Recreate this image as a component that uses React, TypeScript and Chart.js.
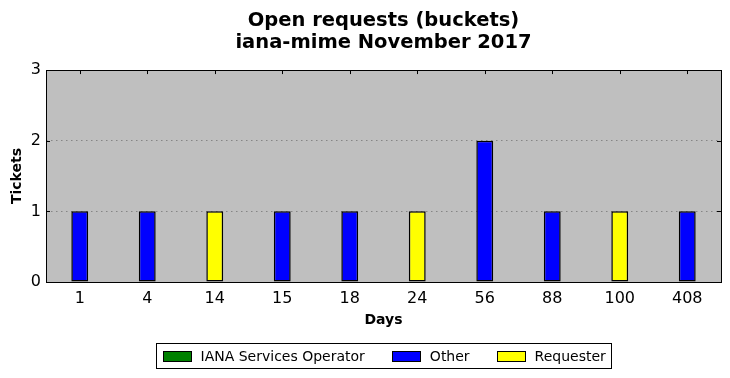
import React, { useEffect, useRef } from "react";
import { Chart, registerables } from "chart.js";

Chart.register(...registerables);

const categories = ["1", "4", "14", "15", "18", "24", "56", "88", "100", "408"];
const ianaValues = [0, 0, 0, 0, 0, 0, 0, 0, 0, 0];
const otherValues = [1, 1, 0, 1, 1, 0, 2, 1, 0, 1];
const requesterValues = [0, 0, 1, 0, 0, 1, 0, 0, 1, 0];
const yTicks = [0, 1, 2, 3];

const FONT = "DejaVu Sans";

const nz = (arr: number[]) => arr.map((v) => (v === 0 ? null : v));

const framePlugin = {
  id: "mplFrame",
  beforeDraw(chart: any) {
    const { ctx, chartArea: a } = chart;
    ctx.save();
    ctx.fillStyle = "#bfbfbf";
    ctx.fillRect(a.left, a.top, a.right - a.left, a.bottom - a.top);
    ctx.restore();
  },
  afterDatasetsDraw(chart: any) {
    const { ctx, chartArea: a } = chart;
    const xs = chart.scales.x;
    const ys = chart.scales.y;
    ctx.save();
    ctx.strokeStyle = "#000";
    ctx.lineWidth = 1;
    ctx.beginPath();
    const L = 4;
    xs.ticks.forEach((_: any, i: number) => {
      const px = Math.round(xs.getPixelForTick(i)) + 0.5;
      ctx.moveTo(px, a.top);
      ctx.lineTo(px, a.top + L);
    });
    ys.ticks.forEach((_: any, i: number) => {
      const py = Math.round(ys.getPixelForTick(i)) + 0.5;
      ctx.moveTo(a.left, py);
      ctx.lineTo(a.left + L, py);
      ctx.moveTo(a.right, py);
      ctx.lineTo(a.right - L, py);
    });
    ctx.stroke();
    ctx.strokeRect(
      Math.round(a.left) + 0.5,
      Math.round(a.top) + 0.5,
      Math.round(a.right - a.left),
      Math.round(a.bottom - a.top)
    );
    ctx.restore();
  },
  afterDraw(chart: any) {
    const { ctx, chartArea: a } = chart;
    const ds = chart.data.datasets;
    ctx.save();
    ctx.font = `14px "${FONT}"`;
    const boxW = 28,
      boxH = 10,
      gapText = 10,
      gapItem = 27,
      padX = 6;
    const widths = ds.map((d: any) => boxW + gapText + ctx.measureText(d.label).width);
    const total = widths.reduce((s: number, w: number) => s + w, 0) + gapItem * (ds.length - 1) + padX * 2;
    const cx = (a.left + a.right) / 2;
    const fx = Math.round(cx - total / 2) + 0.5;
    const fy = 343.5;
    const fh = 25;
    ctx.strokeStyle = "#000";
    ctx.lineWidth = 1;
    ctx.fillStyle = "#fff";
    ctx.fillRect(fx, fy, Math.round(total), fh);
    ctx.strokeRect(fx, fy, Math.round(total), fh);
    let x = fx + padX;
    const cy = fy + fh / 2;
    ds.forEach((d: any, i: number) => {
      ctx.fillStyle = d.backgroundColor;
      ctx.fillRect(Math.round(x), Math.round(cy - boxH / 2), boxW, boxH);
      ctx.strokeRect(Math.round(x) + 0.5, Math.round(cy - boxH / 2) + 0.5, boxW, boxH);
      ctx.fillStyle = "#000";
      ctx.textBaseline = "middle";
      ctx.textAlign = "left";
      ctx.fillText(d.label, x + boxW + gapText, cy + 1);
      x += widths[i] + gapItem;
    });
    ctx.restore();
  },
};

export default function App() {
  const ref = useRef<HTMLCanvasElement>(null);
  useEffect(() => {
    if (!ref.current) return;
    const common = { borderColor: "#000", borderWidth: 1.5, borderSkipped: false as const };
    const chart = new Chart(ref.current, {
      type: "bar",
      data: {
        labels: categories,
        datasets: [
          { label: "IANA Services Operator", data: nz(ianaValues), backgroundColor: "#008000", ...common },
          { label: "Other", data: nz(otherValues), backgroundColor: "#0000ff", ...common },
          { label: "Requester", data: nz(requesterValues), backgroundColor: "#ffff00", ...common },
        ],
      },
      plugins: [framePlugin],
      options: {
        responsive: false,
        animation: false,
        devicePixelRatio: 1,
        layout: { padding: { left: 0, right: 9, top: 0, bottom: 46 } },
        datasets: { bar: { barPercentage: 0.25, categoryPercentage: 1 } },
        plugins: {
          legend: { display: false },
          tooltip: { enabled: false },
          title: {
            display: true,
            fullSize: false,
            text: ["Open requests (buckets)", "iana-mime November 2017"],
            color: "#000",
            font: { family: FONT, size: 19.5, weight: "bold", lineHeight: 1.13 },
            padding: { top: 10, bottom: 16 },
          },
        },
        scales: {
          x: {
            stacked: true,
            offset: true,
            grid: { display: false, drawTicks: false },
            border: { display: false },
            ticks: { color: "#000", font: { family: FONT, size: 16 }, padding: 7, maxRotation: 0 },
            title: {
              display: true,
              text: "Days",
              color: "#000",
              font: { family: FONT, size: 14, weight: "bold" },
              padding: { top: 0, bottom: 3 },
            },
            afterFit(scale: any) {
              scale.height = 50;
            },
          },
          y: {
            stacked: true,
            min: 0,
            max: 3,
            afterBuildTicks(scale: any) {
              scale.ticks = yTicks.map((v) => ({ value: v }));
            },
            grid: {
              color: "rgba(0,0,0,0.3)",
              drawTicks: false,
            },
            border: { display: false, dash: [1.5, 3.5] },
            ticks: { color: "#000", font: { family: FONT, size: 16 }, padding: 5 },
            title: {
              display: true,
              text: "Tickets",
              color: "#000",
              font: { family: FONT, size: 14, weight: "bold" },
              padding: { top: 9, bottom: 0 },
            },
            afterFit(scale: any) {
              scale.width = 46;
            },
          },
        },
      },
    });
    return () => chart.destroy();
  }, []);
  return (
    <div style={{ position: "absolute", left: 0, top: 0, width: 730, height: 378, background: "#fff" }}>
      <canvas ref={ref} width={730} height={378} />
    </div>
  );
}
